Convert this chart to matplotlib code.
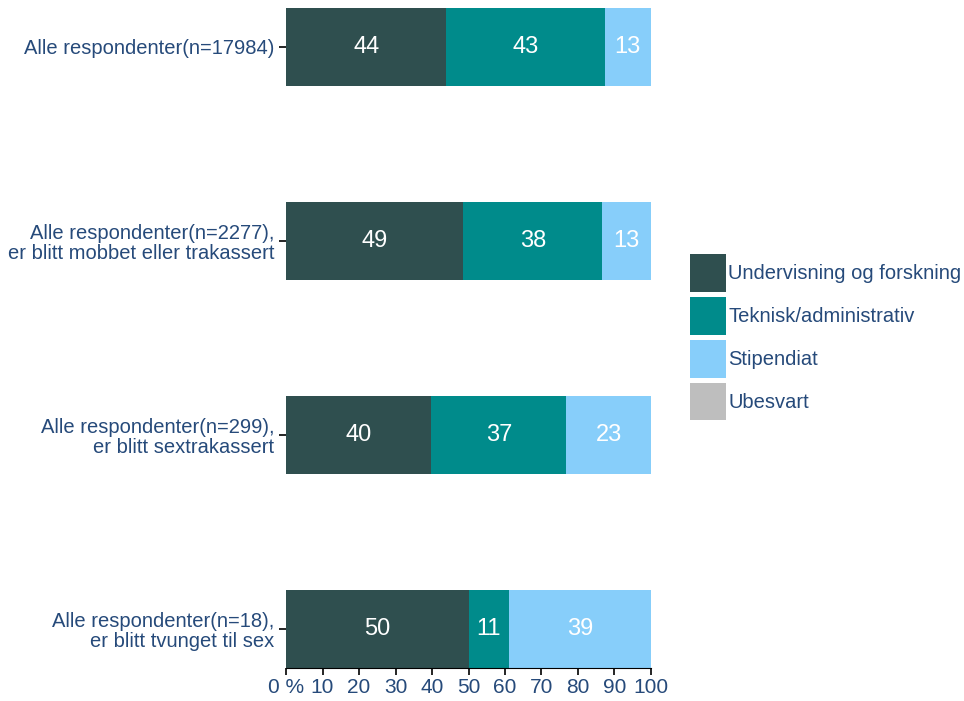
import numpy as np
import matplotlib.pyplot as plt

plt.rcParams['font.family'] = ['Liberation Sans', 'DejaVu Sans']

kategorier = ["Alle respondenter(n=17984)",
              "Alle respondenter(n=2277),\ner blitt mobbet eller trakassert",
              "Alle respondenter(n=299),\ner blitt sextrakassert",
              "Alle respondenter(n=18),\ner blitt tvunget til sex"]
undervisning = [43.9, 48.6, 39.8, 50.0]
teknisk = [43.4, 38.0, 37.0, 11.1]
stipendiat = [12.7, 13.4, 23.2, 38.9]
ubesvart = [0, 0, 0, 0]

serier = ["Undervisning og forskning", "Teknisk/administrativ", "Stipendiat", "Ubesvart"]
farger = ["#2f4f4f", "#008b8b", "#87cefa", "#bebebe"]
tekstfarge = "#264a7a"

fig = plt.figure(figsize=(9.64, 7.01), dpi=100)
ax = fig.add_axes([0.2967, 0.047, 0.3786, 0.9415])

y = np.arange(len(kategorier))
venstre = np.zeros(len(kategorier))
for navn, verdier, farge in zip(serier, [undervisning, teknisk, stipendiat, ubesvart], farger):
    verdier = np.array(verdier, dtype=float)
    ax.barh(y, verdier, left=venstre, height=0.4, color=farge, label=navn)
    for yi, v, l in zip(y, verdier, venstre):
        if v > 0:
            ax.text(l + v / 2, yi, f"{v:.0f}", ha="center", va="center",
                    color="white", fontsize=17)
    venstre += verdier

ax.set_xlim(0, 100)
ax.set_ylim(3.2, -0.2)
ax.set_yticks(y)
ax.set_yticklabels(kategorier, color=tekstfarge, fontsize=14.5, linespacing=1.05)
ax.set_xticks(np.arange(0, 101, 10))
ax.set_xticklabels(["0 %"] + [str(v) for v in range(10, 101, 10)],
                   color=tekstfarge, fontsize=15)
for s in ["top", "right", "left"]:
    ax.spines[s].set_visible(False)
ax.tick_params(axis="both", length=5, width=1.2, color="black")
ax.tick_params(axis="x", pad=2)

fig.legend(loc="upper left", bbox_to_anchor=(0.716, 0.637), frameon=False,
           fontsize=14.5, handlelength=1.8, handleheight=2.5,
           handletextpad=0.1, labelspacing=0.25, labelcolor=tekstfarge,
           borderaxespad=0, borderpad=0)

plt.savefig("out.png", dpi=100)
